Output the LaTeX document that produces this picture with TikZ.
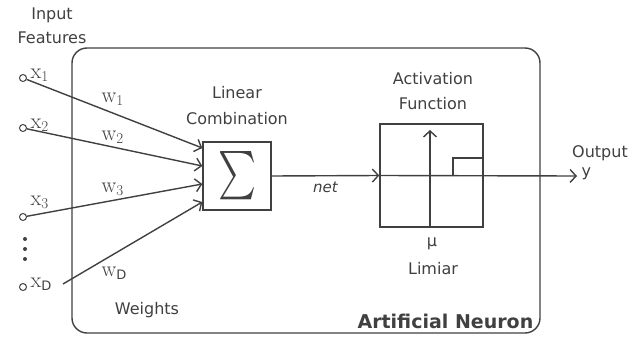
\documentclass[tikz,border=0pt]{standalone}
\usepackage{fontspec}
\setsansfont{DejaVu Sans}
\usepackage{graphicx}
\usetikzlibrary{arrows.meta}
\colorlet{ink}{black!75}

\begin{document}
\begin{tikzpicture}
[x=1pt,y=-1pt,line width=1.4pt,color=ink,%
  every node/.style={font=\sffamily\fontsize{16}{18}\selectfont,text=ink,inner sep=1pt},%
  arr/.style={-{Straight Barb[length=6pt,width=13pt,line width=1.4pt]}},%
  inp/.style={circle,draw,inner sep=0pt,minimum size=7pt,line width=1pt},%
  sub/.style={font=\rmfamily\fontsize{22}{22}\selectfont,inner sep=0pt,anchor=west}]
\useasboundingbox (0,0) rectangle (637,337);
% neuron body
\node[draw,rounded corners=15pt,minimum width=468pt,minimum height=285pt,inner sep=0pt] (neuron) at (306,190.5) {};
\node[font=\sffamily\bfseries\fontsize{19}{21}\selectfont,anchor=south east] (nname) at (535,330) {Artificial Neuron};
% summing junction
\node[draw,minimum size=68pt,inner sep=0pt] (sig) at (237,176) {\resizebox{38pt}{45pt}{$\sum$}};
\node (lin) at (237,93) {Linear};
\node (comb) at (237,119) {Combination};
% activation
\node[draw,minimum size=103pt,inner sep=0pt] (act) at (431.5,175.5) {};
\node (actl) at (433,79) {Activation};
\node (fun) at (433,104) {Function};
\node (mu) at (432,244) {\textmu};
\node (lim) at (433,269) {Limiar};
\coordinate (ax) at (430,130);
\draw[arr] (act.south -| ax) -- (ax);
\coordinate (st) at (453,158);
\draw (st |- act.center) |- (act.east |- st);
% net and output
\draw[arr] (sig.east) -- (act.west)
  node[midway,below=5pt,font=\sffamily\itshape\fontsize{15}{17}\selectfont] (net) {net};
\coordinate (y) at (577,176);
\draw[arr] (act.west) -- (y);
\node[anchor=west] (ylbl) at (580,174) {y};
\node (outl) at (600,153) {Output};
% inputs
\node (inl) at (52,15) {Input};
\node (featl) at (52,38) {Features};
\node[inp] (x1) at (23,78) {};
\node[inp] (x2) at (23,128) {};
\node[inp] (x3) at (23,217) {};
\node[inp] (xd) at (23,287) {};
\node[sub] (lx1) at (30,75) {x\raisebox{-3pt}{\fontsize{15}{15}\selectfont 1}};
\node[sub] (lx2) at (30,125) {x\raisebox{-3pt}{\fontsize{15}{15}\selectfont 2}};
\node[sub] (lx3) at (30,202) {x\raisebox{-3pt}{\fontsize{15}{15}\selectfont 3}};
\node[sub] (lxd) at (30,284) {x\raisebox{-3pt}{\sffamily\fontsize{13}{13}\selectfont D}};
\foreach \d in {239,249,259}
  \fill (25,\d) circle (2pt);
\coordinate (xdend) at (63,284);
\draw[arr] (x1) -- ([yshift=28pt]sig.west);
\draw[arr] (x2) -- ([yshift=10pt]sig.west);
\draw[arr] (x3) -- ([yshift=-8pt]sig.west);
\draw[arr] (xdend) -- ([yshift=-26pt]sig.west);
% weights
\node[sub] (w1) at (101,99) {w\raisebox{-3pt}{\fontsize{15}{15}\selectfont 1}};
\node[sub] (w2) at (101,137) {w\raisebox{-3pt}{\fontsize{15}{15}\selectfont 2}};
\node[sub] (w3) at (101,189) {w\raisebox{-3pt}{\fontsize{15}{15}\selectfont 3}};
\node[sub] (wd) at (101,273) {w\raisebox{-3pt}{\sffamily\fontsize{13}{13}\selectfont D}};
\node (wts) at (147,310) {Weights};
\end{tikzpicture}
\end{document}
